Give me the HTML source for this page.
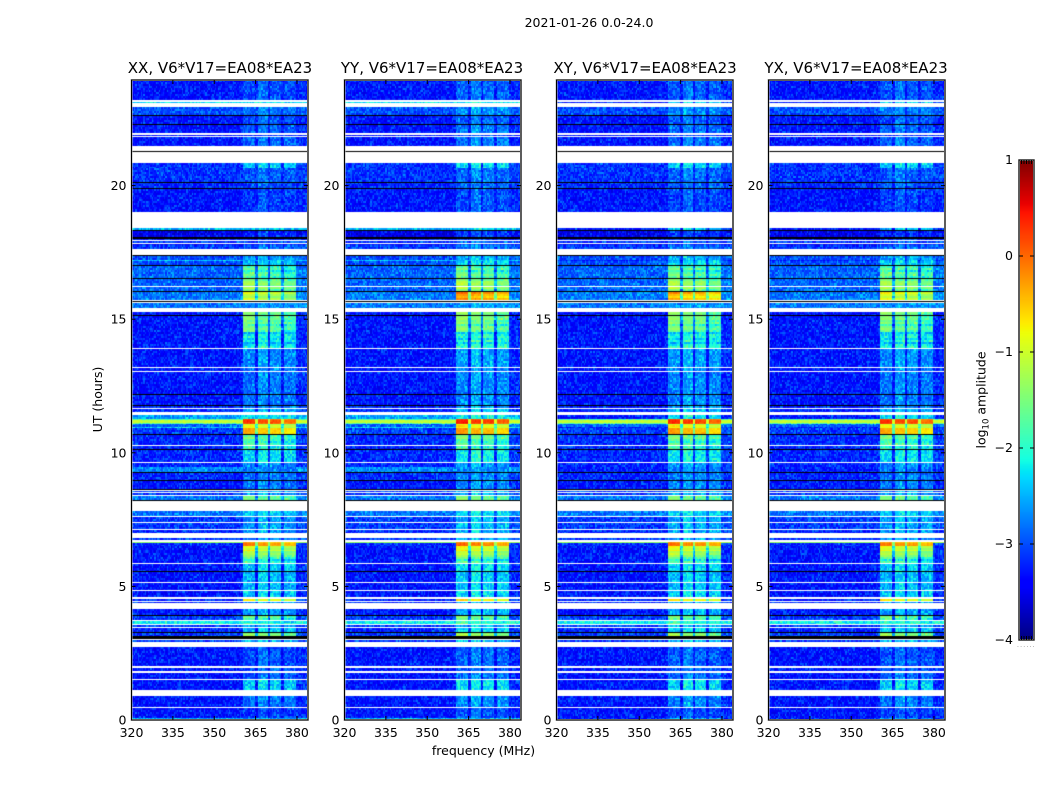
<!DOCTYPE html>
<html>
<head>
<meta charset="utf-8">
<title>2021-01-26 0.0-24.0</title>
<style>
  html, body { margin: 0; padding: 0; background: #fff; }
  #figure { position: relative; width: 1050px; height: 800px; overflow: hidden; background: #fff; }
  #figure canvas { position: absolute; display: block; }
  #heat0, #heat1, #heat2, #heat3 { filter: blur(0.3px); }
  #overlay { position: absolute; left: 0; top: 0; }
  text { font-family: "DejaVu Sans", "Liberation Sans", sans-serif; fill: #000; }
</style>
</head>
<body>
<div id="figure">
  <canvas id="heat0" width="177" height="640" style="left:131px;top:80px"></canvas>
  <canvas id="heat1" width="177" height="640" style="left:344px;top:80px"></canvas>
  <canvas id="heat2" width="177" height="640" style="left:556px;top:80px"></canvas>
  <canvas id="heat3" width="177" height="640" style="left:768px;top:80px"></canvas>
  <canvas id="cbar" width="15" height="480" style="left:1019px;top:160px"></canvas>
  <svg id="overlay" width="1050" height="800" viewBox="0 0 1050 800" xmlns="http://www.w3.org/2000/svg">
    <text x="589" y="27" text-anchor="middle" font-size="12.5">2021-01-26 0.0-24.0</text>
    <text x="220" y="73" text-anchor="middle" font-size="15">XX, V6*V17=EA08*EA23</text>
    <text x="432" y="73" text-anchor="middle" font-size="15">YY, V6*V17=EA08*EA23</text>
    <text x="645" y="73" text-anchor="middle" font-size="15">XY, V6*V17=EA08*EA23</text>
    <text x="856" y="73" text-anchor="middle" font-size="15">YX, V6*V17=EA08*EA23</text>
    <text x="483.5" y="755" text-anchor="middle" font-size="12.5">frequency (MHz)</text>
    <text transform="translate(102,399.5) rotate(-90)" text-anchor="middle" font-size="12.5">UT (hours)</text>
    <text transform="translate(985.5,400) rotate(-90)" text-anchor="middle" font-size="12.5">log<tspan font-size="8.5" dy="3">10</tspan><tspan dy="-3"> amplitude</tspan></text>
    <text x="1017" y="647" font-size="6" letter-spacing="1.2" style="fill:#777">......</text>
    <g id="axes-layer"></g>
  </svg>
</div>
<script>
// ---------- Chart data ----------
var W = null;   // flagged time range (drawn white)
var K = -9;     // missing time range (drawn black)

// UT hour at which each time segment starts (each ends at the next start)
var segmentStartUT = [
  0, 0.04, 0.09, 0.45, 0.49, 0.90, 1.12, 1.50, 1.53, 1.76,
  1.83, 1.95, 2.02, 2.73, 2.92, 2.99, 3.05, 3.14, 3.26, 3.29,
  3.44, 3.48, 3.56, 3.59, 3.71, 3.74, 3.89, 3.93, 4.15, 4.38,
  4.42, 4.46, 4.53, 4.60, 4.83, 4.87, 5.13, 5.16, 5.54, 5.58,
  5.84, 5.88, 6.10, 6.32, 6.51, 6.62, 6.68, 6.74, 6.81, 7.00,
  7.11, 7.15, 7.37, 7.41, 7.60, 7.63, 7.82, 8.20, 8.23, 8.38,
  8.42, 8.50, 8.53, 8.57, 8.61, 8.65, 8.94, 8.98, 9.24, 9.28,
  9.47, 9.62, 9.66, 10.10, 10.14, 10.25, 10.29, 10.67, 10.70, 10.93,
  10.98, 11.10, 11.13, 11.23, 11.26, 11.40, 11.53, 11.64, 11.68, 11.75,
  11.79, 12.16, 12.20, 13.02, 13.06, 13.17, 13.21, 13.88, 13.92, 14.52,
  14.90, 15.12, 15.16, 15.27, 15.42, 15.61, 15.64, 15.68, 15.72, 16.02,
  16.06, 16.21, 16.24, 16.52, 16.56, 16.99, 17.03, 17.18, 17.22, 17.37,
  17.40, 17.61, 17.78, 17.81, 17.85, 17.93, 17.96, 18.02, 18.06, 18.30,
  18.34, 18.41, 19.01, 19.87, 19.91, 20.12, 20.15, 20.66, 20.85, 21.26,
  21.30, 21.48, 21.82, 21.85, 21.91, 21.95, 22.27, 22.31, 22.60, 22.64,
  22.94, 23.09, 23.13, 23.20
];
var lastSegmentEndUT = 23.95;

// log10 amplitude away from the four bright bands
var backgroundLog = [
  -3.1, -2.3, -3.2, W, -3.2, W, -3.2, W, -3.2, W,
  -3.2, W, -3.2, W, -3.0, W, K, -3.0, K, -3.1,
  W, -3.0, W, -2.1, W, -3.0, K, -3.2, W, -3.1,
  W, -3.1, W, -3.2, W, -3.2, W, -3.2, K, -3.2,
  W, -3.2, -3.2, -3.2, -3.1, -1.3, W, -3.0, W, -3.1,
  W, -3.0, W, -3.0, W, -2.7, W, K, -2.7, W,
  -3.0, W, -3.0, W, K, -3.2, K, -3.1, K, -2.6,
  -3.1, W, -3.1, K, -3.1, W, -3.1, K, -3.0, -2.3,
  -2.8, -1.6, -1.0, -1.7, -2.5, W, -3.1, W, -3.1, K,
  -3.2, K, -3.2, W, -3.2, W, -3.2, W, -3.2, -3.2,
  -3.2, K, -3.2, W, -2.7, W, K, W, -2.7, K,
  -2.8, W, -2.8, K, -2.8, K, -2.9, -2.3, -2.9, K,
  W, -3.0, -3.3, W, -3.0, W, -3.2, K, -3.4, K,
  -2.4, W, -3.2, K, -3.1, K, -3.05, -3.05, W, K,
  W, -3.2, W, -3.2, W, -3.2, K, -3.2, K, -2.9,
  W, -2.2, W, -3.2
];

// log10 amplitude inside the bright bands
var bandLog = [
  -3.0, -2.3, -2.9, W, -2.6, W, -2.2, W, -2.7, W,
  -2.8, W, -2.8, W, -2.3, W, W, -1.5, W, -2.2,
  W, -2.4, W, -1.9, W, -1.8, W, -2.4, W, -2.4,
  W, -1.0, W, -2.2, W, -2.3, W, -2.3, W, -2.2,
  W, -1.9, -1.35, -0.9, -0.2, -0.4, W, -2.5, W, -2.4,
  W, -2.4, W, -2.4, W, -2.2, W, W, -1.7, W,
  -2.4, W, -2.4, W, W, -2.6, W, -2.6, W, -2.6,
  -2.5, W, -2.1, W, -2.0, W, -1.8, W, -0.45, -1.1,
  -0.9, 0.1, 0.2, 0.05, -2.1, W, -2.3, W, -2.5, W,
  -2.6, W, -2.6, W, -2.6, W, -2.5, W, -2.05, -1.7,
  -1.6, W, -1.4, W, -2.5, W, W, W, -1.1, W,
  -1.4, W, -1.4, W, -1.8, W, -2.2, -2.3, -2.4, W,
  W, -2.7, -3.0, W, -2.8, W, -3.0, W, -3.0, W,
  -2.3, W, -2.9, W, -2.8, W, -2.75, -2.2, W, W,
  W, -2.7, W, -3.0, W, -2.7, W, -2.8, W, -2.6,
  W, -2.2, W, -2.8
];

// The four bright bands in MHz and their relative level
var bandStartMHz = [360.4, 365.9, 370.6, 375.6];
var bandEndMHz = [364.9, 369.7, 374.7, 380];
var bandOffsetLog = [0.1, -0.05, -0.1, -0.25];
var dimBandOffsetLog = [-0.12, 0.06, -0.05, -0.1];

// Time ripple seen across the bright bands, in log10 amplitude
var bandRipple = [-0.2, 0.05, 0.12, -0.1, 0.15, -0.25, 0.05, 0.2, -0.05];

// Per-polarisation level differences: XX, YY, XY, YX
var panelBandGain = [0, 0.12, 0.08, 0.03];
var panelFlareGain = [0, 0.7, 0.55, 0.1];
var panelIsCrossHand = [false, false, true, true];
var flareStartUT = 15.72;

// Hand-read pixel-to-pixel scatter in log10 amplitude
var speckleLog = [
  -0.18, 0.22, -0.34, 0.05, -0.12, 0.38, -0.26, 0.12, -0.05, -0.38,
  0.3, -0.2, 0.02, -0.3, 0.45, -0.1, 0.16, -0.36, 0.08, -0.24,
  0.26, -0.06, -0.32, 0.18, 0.52, -0.16, -0.28, 0.1, -0.02, 0.34,
  -0.4, 0.14, -0.22, 0.04, 0.42, -0.3, -0.08, 0.2, -0.14, 0.28,
  -0.36, 0.06, 0.6, -0.26, -0.04, 0.24, -0.18, 0.12, -0.32, 0.36,
  -0.1, -0.24, 0.16, 0.32, -0.38, 0.0, -0.2, 0.48, -0.12, 0.08, -0.28
];

// Tick labels
var freqTickLabels = [320, 335, 350, 365, 380];
var utTickLabels = [0, 5, 10, 15, 20];
var colorbarTickLabels = [1, 0, -1, -2, -3, -4];

// Axis ranges
var freqMin = 320, freqMax = 384, channelWidthMHz = 0.5;
var utMin = 0, utMax = 23.95;
var logMin = -4, logMax = 1;

// ---------- Layout ----------
var plotTop = 80, plotBottom = 720, plotWidth = 176.5;
var panelLeftEdges = [131.5, 344.5, 556.5, 768.5];
var cbarLeft = 1019, cbarRight = 1034, cbarTop = 160, cbarBottom = 640;

function xScale(f, left) { return left + (f - freqMin) / (freqMax - freqMin) * plotWidth; }
function yScale(h) { return plotBottom - (h - utMin) * 26.72; }
function cbarScale(v) { return cbarBottom - (v - logMin) / (logMax - logMin) * (cbarBottom - cbarTop); }

function ramp(t, pts) {
  for (var i = 1; i < pts.length; i++) {
    if (t <= pts[i][0]) {
      var a = pts[i - 1], b = pts[i];
      return a[1] + (b[1] - a[1]) * (t - a[0]) / (b[0] - a[0]);
    }
  }
  return pts[pts.length - 1][1];
}
var jetR = [[0,0],[0.35,0],[0.66,1],[0.89,1],[1,0.5]];
var jetG = [[0,0],[0.125,0],[0.375,1],[0.64,1],[0.91,0],[1,0]];
var jetB = [[0,0.5],[0.11,1],[0.34,1],[0.65,0],[1,0]];
function jet(v) {
  var t = Math.max(0, Math.min(1, (v - logMin) / (logMax - logMin)));
  return 'rgb(' + Math.round(255 * ramp(t, jetR)) + ',' + Math.round(255 * ramp(t, jetG)) + ',' + Math.round(255 * ramp(t, jetB)) + ')';
}

function cellLevel(freq, seg, panel, row) {
  var bg = backgroundLog[seg], band = bandLog[seg];
  if (panelIsCrossHand[panel] && bg > -2.65 && bg < -2.15) { bg = -3.15; band = Math.max(band, -2.9); }
  bg -= 0.08;
  var offsets = band < -2 ? dimBandOffsetLog : bandOffsetLog;
  var gain = panelBandGain[panel];
  if (segmentStartUT[seg] === flareStartUT) gain += panelFlareGain[panel];
  if (band < -2) band -= 0.1;
  if (band > -2.2 && band < -0.5) band += bandRipple[row % bandRipple.length];
  for (var b = 0; b < bandStartMHz.length; b++) {
    if (freq >= bandStartMHz[b] && freq < bandEndMHz[b]) return band + offsets[b] + gain;
  }
  if (freq >= bandStartMHz[0] && freq < bandEndMHz[3]) return Math.max(bg, band + gain - 1.2);
  if (freq >= bandEndMHz[3]) return bg + 0.1;
  return bg;
}

function drawPanel(panel) {
  var canvas = document.getElementById('heat' + panel);
  var ctx = canvas.getContext('2d');
  ctx.fillStyle = '#fff';
  ctx.fillRect(0, 0, canvas.width, canvas.height);
  var sx = plotWidth / (freqMax - freqMin);
  for (var s = 0; s < segmentStartUT.length; s++) {
    var bg = backgroundLog[s];
    var end = s + 1 < segmentStartUT.length ? segmentStartUT[s + 1] : lastSegmentEndUT;
    var y0 = Math.round(yScale(end)) - plotTop;
    var y1 = Math.round(yScale(segmentStartUT[s])) - plotTop;
    if (y1 <= y0) y1 = y0 + 1;
    if (bg === W) continue;
    if (bg === K) { ctx.fillStyle = '#000'; ctx.fillRect(0, y0, canvas.width, y1 - y0); continue; }
    for (var y = y0; y < y1; y += 2) {
      var rowH = Math.min(2, y1 - y);
      var r = y >> 1;
      for (var c = 0; c * channelWidthMHz < freqMax - freqMin; c++) {
        var f = freqMin + c * channelWidthMHz;
        var x0 = Math.round(c * channelWidthMHz * sx);
        var x1 = Math.round((c + 1) * channelWidthMHz * sx);
        var lvl = cellLevel(f + channelWidthMHz / 2, s, panel, r);
        var idx = (((c * 73856093) ^ (r * 19349663) ^ (panel * 83492791)) >>> 0) % speckleLog.length;
        var amt = lvl > -1.6 ? 0.25 : 0.75;
        ctx.fillStyle = jet(lvl + speckleLog[idx] * amt);
        ctx.fillRect(x0, y, x1 - x0, rowH);
      }
    }
  }
}

function drawColorbar() {
  var ctx = document.getElementById('cbar').getContext('2d');
  var span = cbarBottom - cbarTop;
  for (var i = 0; i < span; i++) {
    var v = logMax - (i + 0.5) / span * (logMax - logMin);
    ctx.fillStyle = jet(v);
    ctx.fillRect(0, i, 15, 1);
  }
}

var svgNS = 'http://www.w3.org/2000/svg';
var axesLayer = document.getElementById('axes-layer');

function addLine(parent, x1, y1, x2, y2, name) {
  var l = document.createElementNS(svgNS, 'line');
  l.setAttribute('x1', x1);
  l.setAttribute('y1', y1);
  l.setAttribute('x2', x2);
  l.setAttribute('y2', y2);
  l.setAttribute('stroke', '#000');
  l.setAttribute('stroke-width', '1');
  
  
  parent.appendChild(l);
}
function addLabel(parent, x, y, str, anchor, name) {
  var t = document.createElementNS(svgNS, 'text');
  t.setAttribute('x', x);
  t.setAttribute('y', y);
  t.setAttribute('text-anchor', anchor);
  t.setAttribute('font-size', '12.5');
  
  
  t.textContent = str;
  parent.appendChild(t);
}
function addFrame(parent, x, y, w, h, stroke, sw, name) {
  var r = document.createElementNS(svgNS, 'rect');
  r.setAttribute('x', x);
  r.setAttribute('y', y);
  r.setAttribute('width', w);
  r.setAttribute('height', h);
  r.setAttribute('fill', 'none');
  r.setAttribute('stroke', stroke);
  r.setAttribute('stroke-width', sw);
  
  
  parent.appendChild(r);
}

function drawAxes(panel) {
  var left = panelLeftEdges[panel], right = left + plotWidth;
  addFrame(axesLayer, left, plotTop, plotWidth, plotBottom - plotTop, '#b8b8b8', 2, 'panel-frame-halo');
  addFrame(axesLayer, left, plotTop, plotWidth, plotBottom - plotTop, '#000', 1, 'panel-frame');
  freqTickLabels.forEach(function (v) {
    var x = xScale(v, left);
    addLine(axesLayer, x, plotBottom, x, plotBottom - 4, 'x-tick');
    addLine(axesLayer, x, plotTop, x, plotTop + 4, 'x-tick-top');
    addLabel(axesLayer, x, plotBottom + 17, String(v), 'middle', 'x-tick-label');
  });
  utTickLabels.forEach(function (v) {
    var y = yScale(v);
    addLine(axesLayer, left, y, left + 4, y, 'y-tick');
    addLine(axesLayer, right, y, right - 4, y, 'y-tick-right');
    addLabel(axesLayer, left - 5, y + 4.5, String(v), 'end', 'y-tick-label');
  });
}

function drawColorbarAxis() {
  addFrame(axesLayer, cbarLeft, cbarTop, cbarRight - cbarLeft, cbarBottom - cbarTop, '#b8b8b8', 2, 'colorbar-frame-halo');
  addFrame(axesLayer, cbarLeft, cbarTop, cbarRight - cbarLeft, cbarBottom - cbarTop, '#000', 1, 'colorbar-frame');
  colorbarTickLabels.forEach(function (v) {
    var y = cbarScale(v);
    addLine(axesLayer, cbarLeft, y, cbarLeft + 4, y, 'colorbar-tick');
    addLine(axesLayer, cbarRight, y, cbarRight - 4, y, 'colorbar-tick-right');
    addLabel(axesLayer, cbarLeft - 6, y + 4, String(v).replace('-', '\u2212'), 'end', 'colorbar-tick-label');
  });
  for (var i = 1; i <= 5; i++) {
    var x = cbarLeft + i * (cbarRight - cbarLeft) / 6;
    addLine(axesLayer, x, cbarTop, x, cbarTop + 4, 'colorbar-edge-tick');
    addLine(axesLayer, x, cbarBottom, x, cbarBottom - 4, 'colorbar-edge-tick');
  }
}

for (var p = 0; p < 4; p++) {
  drawPanel(p);
  drawAxes(p);
}
drawColorbar();
drawColorbarAxis();
</script>
</body>
</html>
